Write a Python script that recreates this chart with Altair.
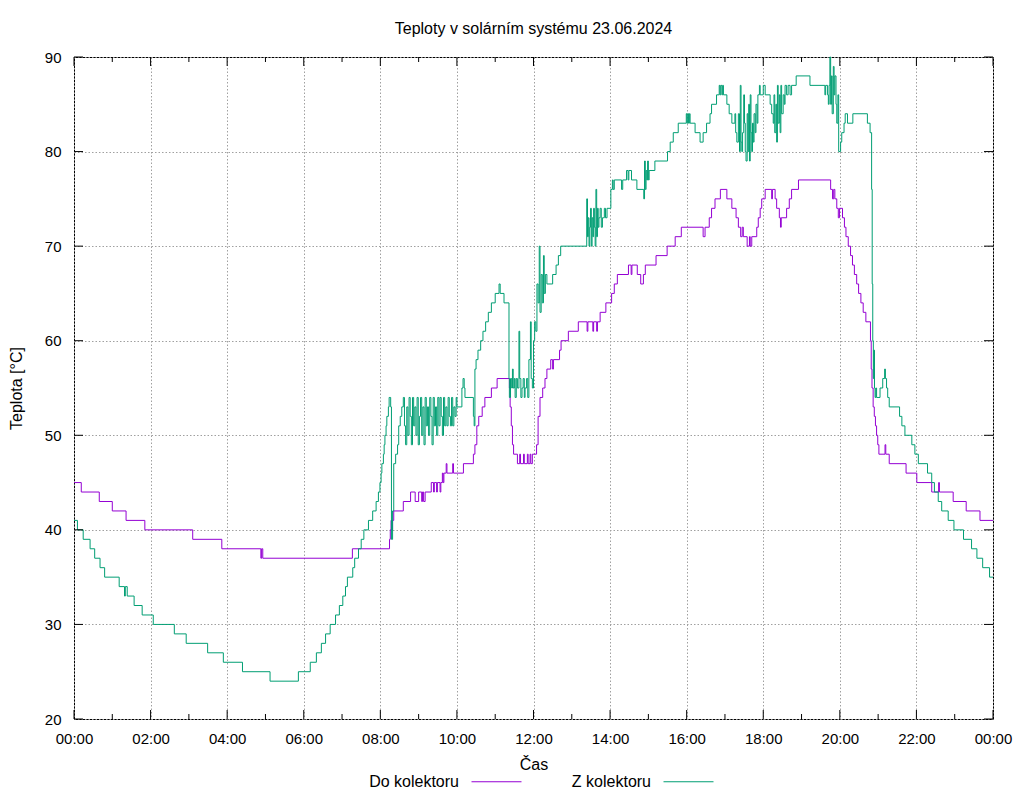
import altair as alt
import pandas as pd

# ---- data (time in hours of day, temperature in °C) ----
series_names = ["Do kolektoru", "Z kolektoru"]
series_colors = ["#9400d3", "#009e73"]

do_points = [
    (0.00, 45), (0.19, 44), (0.66, 43), (1.00, 42), (1.36, 41), (1.85, 40), (3.10, 39), (3.86, 38),
    (4.88, 37), (4.90, 38), (4.93, 37), (7.27, 38), (8.24, 39), (8.26, 40), (8.28, 41), (8.30, 40),
    (8.32, 41), (8.35, 42), (8.60, 43), (8.79, 44), (8.91, 43), (9.00, 44), (9.08, 43), (9.10, 44),
    (9.13, 43), (9.17, 44), (9.33, 45), (9.39, 44), (9.41, 45), (9.47, 44), (9.49, 45), (9.56, 44),
    (9.58, 45), (9.62, 46), (9.64, 45), (9.66, 46), (9.72, 47), (9.74, 46), (9.89, 47), (9.91, 46),
    (10.17, 47), (10.43, 48), (10.47, 49), (10.52, 51), (10.57, 52), (10.66, 53), (10.73, 54),
    (10.90, 55), (11.05, 56), (11.37, 55), (11.39, 53), (11.42, 51), (11.45, 49), (11.48, 48),
    (11.58, 47), (11.64, 48), (11.66, 47), (11.74, 48), (11.76, 47), (11.84, 48), (11.86, 47),
    (11.91, 48), (11.93, 47), (11.97, 48), (12.08, 49), (12.12, 52), (12.17, 54), (12.24, 55),
    (12.30, 56), (12.35, 57), (12.45, 58), (12.50, 57), (12.52, 58), (12.68, 59), (12.72, 60),
    (12.91, 61), (13.17, 62), (13.40, 61), (13.42, 62), (13.55, 61), (13.57, 62), (13.65, 61),
    (13.67, 62), (13.74, 63), (13.89, 64), (14.04, 65), (14.11, 66), (14.19, 67), (14.48, 68),
    (14.55, 67), (14.57, 68), (14.71, 67), (14.80, 66), (14.87, 67), (14.92, 68), (15.20, 69),
    (15.49, 70), (15.70, 71), (15.86, 72), (16.43, 71), (16.48, 72), (16.59, 73), (16.65, 74),
    (16.74, 75), (16.88, 76), (17.05, 75), (17.18, 74), (17.29, 73), (17.35, 72), (17.41, 71),
    (17.45, 72), (17.48, 71), (17.58, 70), (17.64, 71), (17.66, 70), (17.70, 71), (17.83, 72),
    (17.87, 73), (17.92, 74), (17.96, 75), (18.05, 76), (18.22, 75), (18.24, 76), (18.31, 75),
    (18.35, 74), (18.42, 73), (18.45, 72), (18.47, 73), (18.61, 74), (18.68, 75), (18.74, 76),
    (18.92, 77), (19.76, 76), (19.81, 75), (19.84, 76), (19.87, 75), (19.92, 74), (19.96, 73),
    (19.99, 74), (20.07, 73), (20.12, 72), (20.16, 71), (20.22, 70), (20.28, 69), (20.33, 68),
    (20.38, 67), (20.44, 66), (20.49, 65), (20.55, 64), (20.61, 63), (20.68, 62), (20.80, 60),
    (20.82, 57), (20.84, 55), (20.87, 53), (20.90, 52), (20.93, 51), (20.96, 50), (20.99, 49),
    (21.02, 48), (21.18, 49), (21.20, 48), (21.29, 47), (21.73, 46), (22.01, 45), (22.40, 44),
    (22.58, 45), (22.60, 44), (22.96, 43), (23.30, 42), (23.66, 41), (24.00, 41),
]

z_points = [
    (0.00, 41), (0.09, 40), (0.24, 39), (0.42, 38), (0.54, 37), (0.68, 36), (0.80, 35), (1.18, 34),
    (1.32, 33), (1.34, 34), (1.39, 33), (1.57, 32), (1.78, 31), (2.07, 30), (2.62, 29), (2.93, 28),
    (3.49, 27), (3.90, 26), (4.40, 25), (5.12, 24), (5.86, 25), (6.17, 26), (6.33, 27), (6.46, 28),
    (6.57, 29), (6.69, 30), (6.83, 31), (6.93, 32), (7.02, 33), (7.09, 34), (7.14, 35), (7.28, 36),
    (7.33, 37), (7.43, 38), (7.50, 39), (7.57, 40), (7.69, 41), (7.80, 42), (7.89, 43), (7.95, 44),
    (7.99, 45), (8.02, 46), (8.04, 47), (8.08, 48), (8.10, 49), (8.12, 50), (8.15, 51), (8.17, 52),
    (8.21, 53), (8.23, 54), (8.27, 53), (8.29, 39), (8.32, 42), (8.35, 47), (8.40, 48), (8.45, 49),
    (8.48, 51), (8.52, 52), (8.56, 53),
    (8.60, 54), (8.63, 51), (8.66, 49), (8.69, 53), (8.72, 50), (8.75, 54), (8.78, 52), (8.81, 49),
    (8.84, 54), (8.87, 51), (8.90, 53), (8.93, 50), (8.96, 54), (8.99, 49), (9.02, 52), (9.05, 54),
    (9.08, 50), (9.11, 53), (9.14, 49), (9.17, 54), (9.20, 51), (9.23, 53), (9.26, 50), (9.29, 54),
    (9.32, 52), (9.35, 49), (9.38, 54), (9.41, 51), (9.44, 53), (9.47, 50), (9.50, 54), (9.53, 51),
    (9.56, 54), (9.59, 52), (9.62, 50), (9.65, 54), (9.68, 51), (9.71, 53), (9.74, 51), (9.77, 54),
    (9.80, 52), (9.83, 51), (9.86, 54), (9.89, 51), (9.92, 53), (9.95, 52), (9.98, 54),
    (10.00, 53), (10.13, 55), (10.16, 56), (10.19, 55), (10.21, 54), (10.43, 52), (10.45, 51),
    (10.47, 57), (10.50, 58), (10.55, 59), (10.62, 60), (10.68, 61), (10.75, 62), (10.82, 63),
    (10.90, 64), (11.00, 65), (11.10, 66), (11.13, 65), (11.23, 64), (11.36, 56),
    (11.37, 54), (11.40, 56), (11.43, 55), (11.45, 57), (11.47, 55), (11.50, 56), (11.52, 54),
    (11.55, 56), (11.58, 55), (11.62, 61), (11.64, 56), (11.67, 54), (11.70, 55), (11.73, 56),
    (11.76, 54), (11.78, 55), (11.82, 56), (11.85, 54), (11.88, 58), (11.92, 62), (11.94, 56),
    (11.97, 55), (12.00, 60), (12.03, 62), (12.06, 61), (12.09, 66), (12.12, 64), (12.15, 70),
    (12.17, 63), (12.20, 67), (12.23, 64), (12.26, 69), (12.28, 65), (12.31, 67), (12.35, 66),
    (12.50, 67), (12.59, 68), (12.65, 69), (12.71, 70),
    (13.39, 75), (13.41, 71), (13.43, 73), (13.45, 70), (13.47, 72), (13.49, 74), (13.51, 70),
    (13.53, 73), (13.55, 71), (13.57, 74), (13.59, 72), (13.61, 70), (13.63, 76), (13.65, 71),
    (13.67, 74), (13.69, 72), (13.71, 73), (13.74, 74), (13.77, 72), (13.80, 73), (13.85, 74),
    (13.88, 73), (13.92, 74), (14.02, 76), (14.06, 77), (14.08, 76), (14.11, 77), (14.30, 76),
    (14.33, 77), (14.43, 78), (14.47, 77), (14.49, 78), (14.56, 77), (14.70, 76), (14.88, 75),
    (14.90, 79), (14.92, 76), (14.94, 78), (14.96, 77), (14.98, 79), (15.00, 77), (15.02, 78),
    (15.17, 79), (15.50, 80), (15.57, 81), (15.65, 82), (15.78, 83), (15.99, 84), (16.01, 83),
    (16.03, 84), (16.05, 83), (16.07, 84), (16.09, 83), (16.22, 82), (16.35, 81), (16.43, 82),
    (16.52, 83), (16.61, 84), (16.65, 85), (16.78, 86), (16.85, 87), (16.87, 86), (16.89, 87),
    (16.92, 86), (16.94, 87), (16.96, 86), (17.05, 85), (17.11, 84), (17.18, 83), (17.26, 84),
    (17.28, 82), (17.31, 81), (17.35, 84), (17.38, 80), (17.40, 87), (17.42, 81), (17.44, 80),
    (17.46, 82), (17.49, 86), (17.51, 83), (17.53, 80), (17.55, 79), (17.58, 84), (17.60, 80),
    (17.62, 85), (17.64, 79), (17.66, 86), (17.68, 82), (17.70, 80), (17.72, 83), (17.74, 81),
    (17.76, 84), (17.79, 82), (17.81, 85), (17.84, 83), (17.86, 86), (17.90, 87), (17.92, 86),
    (18.00, 87), (18.05, 86), (18.18, 85), (18.22, 84), (18.26, 83), (18.28, 86), (18.30, 82),
    (18.33, 85), (18.35, 81), (18.37, 87), (18.39, 83), (18.42, 86), (18.44, 82), (18.46, 87),
    (18.48, 84), (18.52, 86), (18.55, 85), (18.57, 87), (18.61, 86), (18.65, 87), (18.70, 86),
    (18.74, 87), (18.86, 88), (19.22, 87), (19.61, 86), (19.63, 87), (19.68, 86), (19.70, 85),
    (19.72, 87), (19.74, 90), (19.76, 85), (19.78, 88), (19.80, 84), (19.83, 89), (19.85, 86),
    (19.87, 88), (19.90, 85), (19.92, 83), (19.95, 86), (19.97, 80), (20.02, 81), (20.05, 82),
    (20.11, 83), (20.14, 84), (20.20, 83), (20.34, 84), (20.72, 83), (20.79, 82), (20.83, 76),
    (20.845, 66), (20.86, 60), (20.875, 56), (20.89, 59), (20.905, 55), (20.92, 54), (20.94, 55),
    (20.96, 54), (21.05, 55), (21.12, 56), (21.17, 57), (21.19, 56), (21.22, 55), (21.25, 54),
    (21.29, 53), (21.56, 52), (21.62, 51), (21.70, 50), (21.88, 49), (21.96, 48), (22.05, 47),
    (22.29, 46), (22.40, 45), (22.47, 44), (22.57, 43), (22.66, 42), (22.83, 41), (22.98, 40),
    (23.23, 39), (23.44, 38), (23.58, 37), (23.73, 36), (23.91, 35), (24.00, 35),
]

x_major_ticks = list(range(0, 25, 2))
x_minor_ticks = list(range(1, 24, 2))
y_ticks = list(range(20, 91, 10))

# ---- build table ----
rows = [{"h": h, "t": t, "serie": series_names[0]} for h, t in do_points]
rows += [{"h": h, "t": t, "serie": series_names[1]} for h, t in z_points]
df = pd.DataFrame(rows)

W, H = 919, 662
FONT = "Liberation Sans"
xscale = alt.Scale(domain=[0, 24], nice=False, zero=False)
yscale = alt.Scale(domain=[20, 90], nice=False, zero=False)

label_expr = "(datum.value % 24 < 10 ? '0' : '') + (datum.value % 24) + ':00'"
common = dict(grid=True, ticks=False, domain=False, labelFont=FONT, titleFont=FONT,
              labelFontSize=15, titleFontSize=16, titleFontWeight="normal",
              labelColor="black", titleColor="black", gridColor="#a0a0a0",
              gridDash=[1.5, 2], gridWidth=1, labelFlush=False)
x_axis = alt.Axis(values=x_major_ticks, labelExpr=label_expr, title="Čas",
                  labelPadding=12, titlePadding=10, **common)
y_axis = alt.Axis(values=y_ticks, title="Teplota [°C]", labelPadding=13,
                  titlePadding=20, **common)

lines = alt.Chart(df).mark_line(interpolate="step-after", strokeWidth=1).encode(
    x=alt.X("h:Q", scale=xscale, axis=x_axis),
    y=alt.Y("t:Q", scale=yscale, axis=y_axis),
    color=alt.Color("serie:N",
                    scale=alt.Scale(domain=series_names, range=series_colors),
                    legend=alt.Legend(orient="none", legendX=397, legendY=699,
                                      direction="horizontal", title=None,
                                      symbolType="stroke", symbolSize=2500,
                                      symbolStrokeWidth=1, labelFontSize=16,
                                      labelFont=FONT,
                                      labelOffset={"expr": "-63"}, labelAlign="right",
                                      columnPadding=47, labelColor="black")),
    detail="serie:N",
)

ytick_df = pd.DataFrame({"t": y_ticks})
xmaj_df = pd.DataFrame({"h": x_major_ticks})
xmin_df = pd.DataFrame({"h": x_minor_ticks})

def rule(data):
    return alt.Chart(data).mark_rule(color="black", strokeWidth=1)

yenc = alt.Y("t:Q", scale=yscale, axis=y_axis)
xenc = alt.X("h:Q", scale=xscale, axis=x_axis)
ytl = rule(ytick_df).encode(y=yenc, x=alt.value(0), x2=alt.value(9))
ytr = rule(ytick_df).encode(y=yenc, x=alt.value(W - 9), x2=alt.value(W))
xtb = rule(xmaj_df).encode(x=xenc, y=alt.value(H - 9), y2=alt.value(H))
xtt = rule(xmaj_df).encode(x=xenc, y=alt.value(0), y2=alt.value(9))
xmb = rule(xmin_df).encode(x=xenc, y=alt.value(H - 5), y2=alt.value(H))
xmt = rule(xmin_df).encode(x=xenc, y=alt.value(0), y2=alt.value(5))

chart = alt.layer(lines, ytl, ytr, xtb, xtt, xmb, xmt).properties(
    width=W, height=H,
    background="white",
    title=alt.TitleParams("Teploty v solárním systému 23.06.2024", fontSize=16,
                          fontWeight="normal", font=FONT, color="black",
                          anchor="middle", offset=13),
    autosize=alt.AutoSizeParams(type="none"),
    padding={"left": 66, "top": 49, "right": 23, "bottom": 75},
).configure_view(
    stroke="black", strokeWidth=1
)

chart.save("out.html", embed_options={"renderer": "svg", "actions": False})
